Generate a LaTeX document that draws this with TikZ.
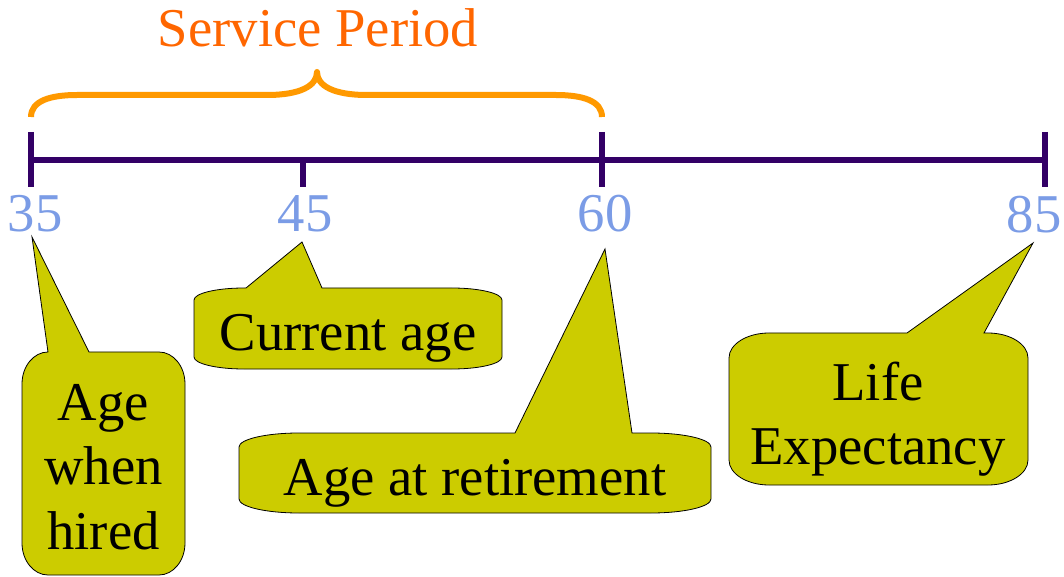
\documentclass[tikz,border=0pt]{standalone}
\usepackage{fontspec}
\setmainfont{Liberation Serif}
\definecolor{axispurple}{HTML}{330066}
\definecolor{braceorange}{HTML}{FF9900}
\definecolor{titleorange}{HTML}{FF6600}
\definecolor{agesblue}{HTML}{7B9CE6}
\definecolor{calloutfill}{HTML}{CCCC00}
\tikzset{every picture/.style={line width=0.75pt}}
\tikzset{
  callout/.style={draw=black, fill=calloutfill, line width=0.6pt, line join=miter},
  agelabel/.style={anchor=base, inner sep=0pt, text=agesblue, font=\fontsize{41}{48}\selectfont},
  boxtext/.style={inner sep=0pt, align=center, font=\fontsize{41}{48.5}\selectfont}
}

\begin{document}
\begin{tikzpicture}[x=0.75pt,y=0.75pt,yscale=-1,xscale=1]
	\useasboundingbox (0,0) rectangle (1064,577);
	% brace and title
	\draw [braceorange, line width=4.5pt, line join=round]  (31,117) .. controls (31,101) and (50,95) .. (77,95) -- (267,95) .. controls (300,95) and (317,86) .. (317,72) .. controls (317,86) and (334,95) .. (367,95) -- (556,95) .. controls (583,95) and (602,101) .. (602,117) ;
	\node (title) [anchor=base, inner sep=0pt, text=titleorange, font=\fontsize{41}{48}\selectfont] at (318,47) {Service Period};
	% time axis
	\draw [axispurple, line width=5pt]  (31,160) -- (1045,160) (31,132) -- (31,187) (303,160) -- (303,187) (602,132) -- (602,187) (1045,132) -- (1045,187) ;
	\node (a35) [agelabel] at (35,232) {35};
	\node (a45) [agelabel] at (305,232) {45};
	\node (a60) [agelabel] at (605,232) {60};
	\node (a85) [agelabel] at (1034,233) {85};
	% callouts
	\draw [callout]  (48,352) -- (32,237) -- (89,352) -- (159,352) arc[start angle=-90, end angle=0, x radius=26, y radius=32] -- (185,543) arc[start angle=0, end angle=90, x radius=26, y radius=32] -- (48,575) arc[start angle=90, end angle=180, x radius=26, y radius=32] -- (22,384) arc[start angle=180, end angle=270, x radius=26, y radius=32] -- cycle ;
	\draw [callout]  (246,288) -- (302,242) -- (322,288) -- (452,288) arc[start angle=-90, end angle=0, x radius=50, y radius=12] -- (502,357) arc[start angle=0, end angle=90, x radius=50, y radius=12] -- (244,369) arc[start angle=90, end angle=180, x radius=50, y radius=12] -- (194,300) arc[start angle=180, end angle=270, x radius=50, y radius=12] -- cycle ;
	\draw [callout]  (515,433) -- (605,249) -- (632,433) -- (651,433) arc[start angle=-90, end angle=0, x radius=60, y radius=14] -- (711,499) arc[start angle=0, end angle=90, x radius=60, y radius=14] -- (299,513) arc[start angle=90, end angle=180, x radius=60, y radius=14] -- (239,447) arc[start angle=180, end angle=270, x radius=60, y radius=14] -- cycle ;
	\draw [callout]  (907,333) -- (1033,243) -- (984,333) -- (988,333) arc[start angle=-90, end angle=0, x radius=40, y radius=25] -- (1028,460) arc[start angle=0, end angle=90, x radius=40, y radius=25] -- (769,485) arc[start angle=90, end angle=180, x radius=40, y radius=25] -- (729,358) arc[start angle=180, end angle=270, x radius=40, y radius=25] -- cycle ;

	\node (hired) [boxtext] at (103.5,467) {Age\\when\\hired};
	\node (current) [boxtext, anchor=base] at (348,350) {Current age};
	\node (retire) [boxtext, anchor=base] at (475,495) {Age at retirement};
	\node (life) [boxtext] at (878,419) {Life\\Expectancy};
\end{tikzpicture}
\end{document}
